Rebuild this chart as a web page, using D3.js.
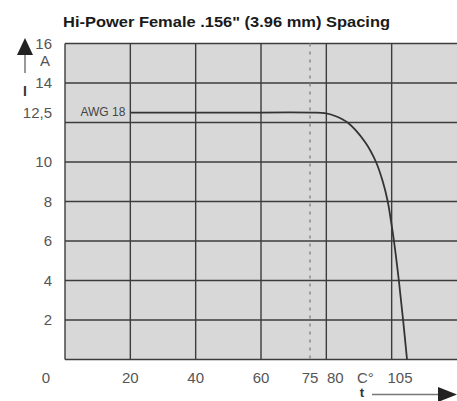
<!DOCTYPE html>
<html><head><meta charset="utf-8">
<script src="https://cdn.jsdelivr.net/npm/d3@7"></script>
<style>body{margin:0;background:#fff}svg{display:block}</style>
</head><body>
<script>
const title = 'Hi-Power Female .156" (3.96 mm) Spacing';
const xGrid = [20, 40, 60, 80, 100];
const yGrid = [2, 4, 6, 8, 10, 12, 14];
const yTickValues = [2, 4, 6, 8, 10, 12.5, 14, 16];
const yTickLabels = ["2", "4", "6", "8", "10", "12,5", "14", "16"];
const xTickValues = [20, 40, 60, 75, 80, 105];
const xTickLabels = ["20", "40", "60", "75", "80", "105"];
const markerTemp = 75;
const seriesName = "AWG 18";
const temps = [20, 50, 76, 79.5, 82.7, 86.5, 91.9, 95.2, 97.3, 98.8, 99.8, 100.7, 102.2, 103.5, 104.7];
const current = [12.5, 12.5, 12.5, 12.47, 12.33, 12.0, 11.0, 10, 9, 8, 7, 6, 4, 2, 0];

const W = 457, H = 401;
const svg = d3.select("body").append("svg").attr("width", W).attr("height", H);
const x = d3.scaleLinear().domain([0, 120]).range([65, 457]);
const y = d3.scaleLinear().domain([0, 16]).range([359.5, 43.5]);
const font = "'Liberation Sans', Arial, sans-serif";
const narrow = "'Liberation Sans Narrow', 'Liberation Sans', Arial, sans-serif";

// title
svg.append("text").attr("x", 63).attr("y", 27).text(title)
  .attr("font-family", narrow).attr("font-weight", "bold").attr("font-size", 15.5)
  .attr("fill", "#1a1a1a").attr("textLength", 327).attr("lengthAdjust", "spacingAndGlyphs");

// plot background
svg.append("rect").attr("x", x(0)).attr("y", y(16)).attr("width", x(120) - x(0)).attr("height", y(0) - y(16))
  .attr("fill", "#d8d8d8");

// grid
const grid = svg.append("g").attr("stroke", "#3c3c3c").attr("stroke-width", 1.4);
grid.selectAll("line.h").data([0, ...yGrid, 16]).join("line")
  .attr("x1", x(0)).attr("x2", x(120)).attr("y1", d => y(d)).attr("y2", d => y(d));
grid.selectAll("line.v").data([0, ...xGrid]).join("line")
  .attr("x1", d => x(d)).attr("x2", d => x(d)).attr("y1", y(0)).attr("y2", y(16));

// dashed marker at 75
svg.append("line").attr("x1", x(markerTemp)).attr("x2", x(markerTemp)).attr("y1", y(16)).attr("y2", y(0))
  .attr("stroke", "#909090").attr("stroke-width", 1.6).attr("stroke-dasharray", "3,5");

// curve
const pts = temps.map((t, i) => [t, current[i]]);
svg.append("path").datum(pts)
  .attr("d", d3.line().x(d => x(d[0])).y(d => y(d[1])).curve(d3.curveCatmullRom.alpha(0.5)))
  .attr("fill", "none").attr("stroke", "#333").attr("stroke-width", 1.8);

// series label
svg.append("text").attr("x", x(temps[0]) - 5).attr("y", y(current[0]) + 3).attr("text-anchor", "end")
  .text(seriesName).attr("font-family", narrow).attr("font-size", 12).attr("fill", "#444");

// y tick labels
svg.append("g").selectAll("text").data(yTickValues).join("text")
  .attr("x", 52).attr("y", d => y(d)).attr("dy", "0.36em").attr("text-anchor", "end")
  .text((d, i) => yTickLabels[i]).attr("font-family", font).attr("font-size", 15).attr("fill", "#555");

// x tick labels
const xOffsets = {"80": 9, "105": -8};
svg.append("g").selectAll("text").data(xTickValues).join("text")
  .attr("x", (d, i) => x(d) + (xOffsets[xTickLabels[i]] || 0)).attr("y", 383).attr("text-anchor", "middle")
  .text((d, i) => xTickLabels[i]).attr("font-family", font).attr("font-size", 15).attr("fill", "#555");
// origin label
svg.append("text").attr("x", 46).attr("y", 383).attr("text-anchor", "middle").text("0")
  .attr("font-family", font).attr("font-size", 15).attr("fill", "#555");
// unit C°
svg.append("text").attr("x", 357).attr("y", 383).text("C°")
  .attr("font-family", font).attr("font-size", 15).attr("fill", "#555");

// y unit A and axis arrow
svg.append("text").attr("x", 50).attr("y", 66).attr("text-anchor", "end").text("A")
  .attr("font-family", font).attr("font-size", 15).attr("fill", "#555");
svg.append("path").attr("d", "M25,38 L33,55 L17,55 Z").attr("fill", "#222");
svg.append("line").attr("x1", 25).attr("x2", 25).attr("y1", 55).attr("y2", 73).attr("stroke", "#999").attr("stroke-width", 2);
svg.append("text").attr("x", 25).attr("y", 96).attr("text-anchor", "middle").text("I")
  .attr("font-family", font).attr("font-weight", "bold").attr("font-size", 14).attr("fill", "#333");

// x axis arrow
svg.append("text").attr("x", 362).attr("y", 397).attr("text-anchor", "middle").text("t")
  .attr("font-family", font).attr("font-weight", "bold").attr("font-size", 13).attr("fill", "#333");
svg.append("line").attr("x1", 372).attr("x2", 440).attr("y1", 394.5).attr("y2", 394.5).attr("stroke", "#777").attr("stroke-width", 1.5);
svg.append("path").attr("d", "M438,387 L457,394.5 L438,402 Z").attr("fill", "#222");
</script>
</body></html>
